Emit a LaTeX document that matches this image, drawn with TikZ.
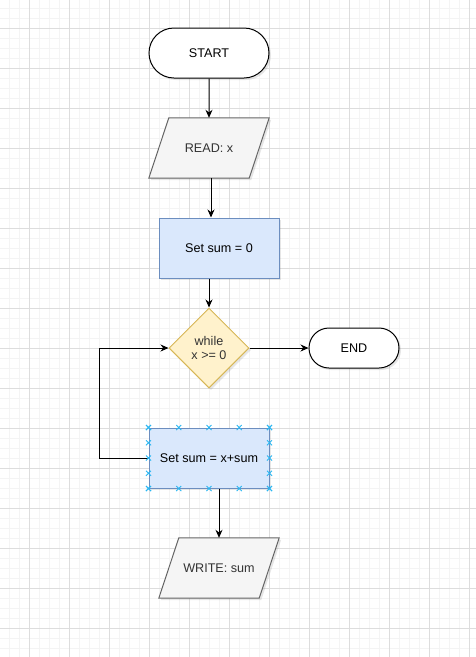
\documentclass[tikz,border=0pt]{standalone}
\usepackage{fontspec}
\setmainfont{Liberation Sans}
\usepackage{xcolor}
\usepackage{tikz}
\usetikzlibrary{shapes.geometric,shapes.misc,arrows.meta,shadows,calc}
\pgfdeclarelayer{background}
\pgfsetlayers{background,main}

\definecolor{gridminor}{HTML}{F4F4F4}
\definecolor{gridmajor}{HTML}{DDDDDD}
\definecolor{procfill}{HTML}{DAE8FC}
\definecolor{procline}{HTML}{6C8EBF}
\definecolor{decfill}{HTML}{FFF2CC}
\definecolor{decline}{HTML}{D6B656}
\definecolor{iofill}{HTML}{F5F5F5}
\definecolor{ioline}{HTML}{666666}
\definecolor{iotext}{HTML}{333333}
\definecolor{marker}{HTML}{29B6F2}

\begin{document}
\begin{tikzpicture}[x=1pt,y=-1pt,font=\fontsize{12.6}{14.5}\selectfont,
		flowshadow/.style={drop shadow={shadow xshift=2pt,shadow yshift=-2pt,opacity=0.2}},
		terminal/.style={rounded rectangle,draw=black,fill=white,line width=1pt,flowshadow,inner sep=0pt},
		inout/.style={rectangle,minimum width=120pt,minimum height=60pt,inner sep=0pt,text=iotext},
		ioshape/.style={draw=ioline,fill=iofill,line width=1pt,flowshadow},
		process/.style={rectangle,minimum width=120pt,minimum height=60pt,inner sep=0pt,draw=procline,fill=procfill,line width=1pt,flowshadow},
		decision/.style={diamond,aspect=1,minimum width=80pt,minimum height=80pt,inner sep=0pt,draw=decline,fill=decfill,text=iotext,line width=1pt,align=center,flowshadow}]
		\useasboundingbox (0,0) rectangle (476,657);
		%
		\node[terminal,minimum width=120pt,minimum height=50pt] (start) at (209,53) {START};
		\node[inout] (read) at (209,148) {READ: x};
		\node[process] (init) at (219,248) {Set sum = 0};
		\node[decision] (cond) at (209,348) {while\\x >= 0};
		\node[terminal,minimum width=90pt,minimum height=40pt] (stop) at (354,348) {END};
		\node[process] (upd) at (209,458) {Set sum = x+sum};
		\node[inout] (write) at (219,568) {WRITE: sum};
		\coordinate (back) at (99,458);
		%
		\begin{pgfonlayer}{background}
		\foreach \gx in {9,19,...,469} \draw[gridminor,line width=0.8pt] (\gx,0) -- (\gx,657);
		\foreach \gy in {8,18,...,648} \draw[gridminor,line width=0.8pt] (0,\gy) -- (476,\gy);
		\foreach \gx in {29,69,...,469} \draw[gridmajor,line width=0.8pt] (\gx,0) -- (\gx,657);
		\foreach \gy in {28,68,...,628} \draw[gridmajor,line width=0.8pt] (0,\gy) -- (476,\gy);
		\foreach \n in {read,write}
			\path[ioshape] ([xshift=20pt]\n.north west) -- (\n.north east) -- ([xshift=-20pt]\n.south east) -- (\n.south west) -- cycle;
		\end{pgfonlayer}
		%
		\path[->,line width=1pt,>={Stealth[length=8pt,width=7pt]}]
		(start) edge (read)
		([xshift=2pt]read.south) edge ([xshift=2pt]read.south |- init.north)
		(init.south -| cond.north) edge (cond.north)
		(cond.east) edge (stop.west)
		(upd.south -| write.north) edge (write.north);
		\draw[->,line width=1pt,>={Stealth[length=8pt,width=7pt]}] (upd.west) -- (back) |- (cond.west);
		%
		\foreach \t in {0,0.25,0.5,0.75,1} {
			\foreach \p in {($(upd.north west)!\t!(upd.north east)$),($(upd.south west)!\t!(upd.south east)$),
				($(upd.north west)!\t!(upd.south west)$),($(upd.north east)!\t!(upd.south east)$)} {
				\draw[marker,line width=0.8pt] \p ++(-2.5,-2.5) -- ++(5,5) \p ++(-2.5,2.5) -- ++(5,-5);
			}
		}
\end{tikzpicture}
\end{document}
